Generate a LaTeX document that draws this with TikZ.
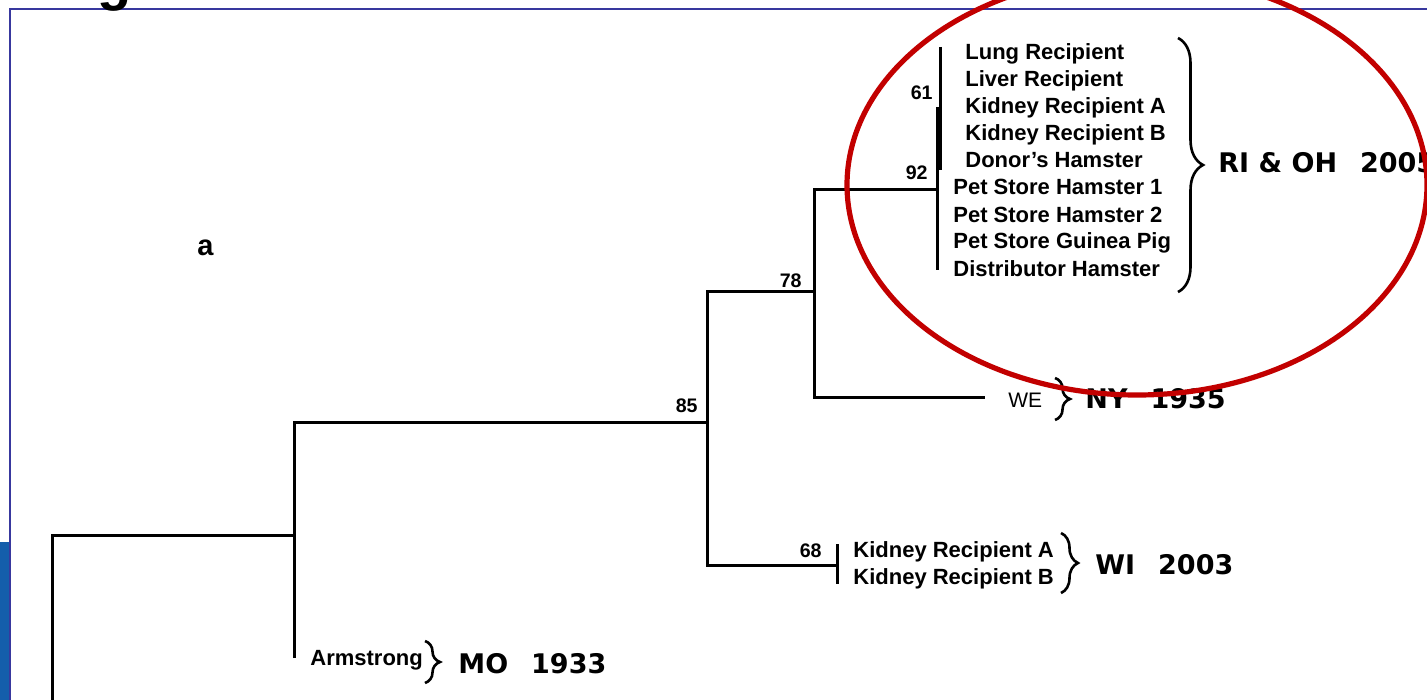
\documentclass[tikz,border=0pt]{standalone}
\usepackage{fontspec}
\setmainfont{Liberation Sans}
\newfontfamily\heavyfont{DejaVu Sans}
\usetikzlibrary{decorations.pathreplacing}
\definecolor{FrameClr}{rgb}{0.22,0.22,0.62}
\definecolor{BarClr}{rgb}{0.08,0.37,0.67}
\definecolor{RingClr}{rgb}{0.76,0,0}

\tikzset{
  branch/.style={line width=1.5pt,color=black},
  boot/.style={anchor=base east,inner sep=0pt,font=\bfseries\fontsize{9.8}{11}\selectfont},
  leaf/.style={anchor=base west,inner sep=0pt,font=\bfseries\fontsize{11}{13}\selectfont},
  grp/.style={anchor=base west,inner sep=0pt,font=\heavyfont\bfseries\fontsize{13.5}{16}\selectfont},
  curly/.style={decorate,decoration={brace,amplitude=#1},line width=1.3pt},
  ring/.style={line width=2.6pt,color=RingClr}
}

\begin{document}
\begin{tikzpicture}[x=0.5pt,y=-0.5pt]
\useasboundingbox (0,0) rectangle (1427,700);
\fill[white] (0,0) rectangle (1427,700);

\fill[BarClr] (0,542) rectangle (9,700);
\draw[line width=1pt,color=FrameClr] (10,700) -- (10,9) -- (1427,9);
\node (ttl) [anchor=base,inner sep=0pt,font=\bfseries\fontsize{28}{32}\selectfont] at (115,0) {g};
\node (pa) [anchor=base west,inner sep=0pt,font=\bfseries\fontsize{14.5}{17}\selectfont] at (197,255) {a};

\coordinate (rootlow) at (52,712);
\coordinate (nA) at (294,535);
\coordinate (arm) at (294,658);
\coordinate (n85) at (707,422);
\coordinate (n78) at (814,291);
\coordinate (n68) at (837,565);
\coordinate (n92) at (937.5,190);
\coordinate (we) at (985,397);
\coordinate (n92t) at (937.5,107);
\coordinate (n92b) at (937.5,270);
\coordinate (n61t) at (940.5,47);
\coordinate (n61b) at (940.5,170);
\coordinate (n68t) at (837,544);
\coordinate (n68b) at (837,584);

\draw[branch] (rootlow) |- (nA);
\draw[branch] (arm) |- (n85);
\draw[branch] (n78) -| (n85) |- (n68);
\draw[branch] (n92) -| (n78) |- (we);
\draw[branch] (n92t) -- (n92b);
\draw[branch] (n61t) -- (n61b);
\draw[branch] (n68t) -- (n68b);

\node (b61) [boot] at (933,100) {61};
\node (b92) [boot] at (928,180) {92};
\node (b78) [boot] at (802,287) {78};
\node (b85) [boot] at (698,412) {85};
\node (b68) [boot] at (822,557) {68};

\node (lung) [leaf] at (965,60) {Lung Recipient};
\node (liver) [leaf] at (965,87) {Liver Recipient};
\node (kidA) [leaf] at (965,114) {Kidney Recipient A};
\node (kidB) [leaf] at (965,141) {Kidney Recipient B};
\node (donor) [leaf] at (965,168) {Donor’s Hamster};
\node (ps1) [leaf] at (953,195) {Pet Store Hamster 1};
\node (ps2) [leaf] at (953,222) {Pet Store Hamster 2};
\node (psgp) [leaf] at (953,249) {Pet Store Guinea Pig};
\node (dist) [leaf] at (953,276) {Distributor Hamster};
\node (wiA) [leaf] at (853,557) {Kidney Recipient A};
\node (wiB) [leaf] at (853,584) {Kidney Recipient B};
\node (armN) [leaf] at (310,665) {Armstrong};
\node (weN) [leaf,font=\fontsize{10.5}{12}\selectfont] at (1008,407) {WE};

\coordinate (riT) at (1178,38);
\coordinate (riB) at (1178,292);
\coordinate (nyT) at (1055,378);
\coordinate (nyB) at (1055,420);
\coordinate (wiT) at (1061,533);
\coordinate (wiB2) at (1061,593);
\coordinate (moT) at (425,641);
\coordinate (moB) at (425,683);
\draw[curly=12.5pt] (riT) -- (riB);
\draw[curly=7.5pt] (nyT) -- (nyB);
\draw[curly=8.5pt] (wiT) -- (wiB2);
\draw[curly=7.5pt] (moT) -- (moB);

\node (riG) [grp] at (1218,173) {RI \& OH\hspace{0.85em}2005};
\node (nyG) [grp] at (1085,408) {NY\hspace{0.85em}1935};
\node (wiG) [grp] at (1095,574) {WI\hspace{0.85em}2003};
\node (moG) [grp] at (458,673) {MO\hspace{0.85em}1933};

\draw[ring] (1137,185) ellipse [x radius=290,y radius=210];

\end{tikzpicture}
\end{document}
